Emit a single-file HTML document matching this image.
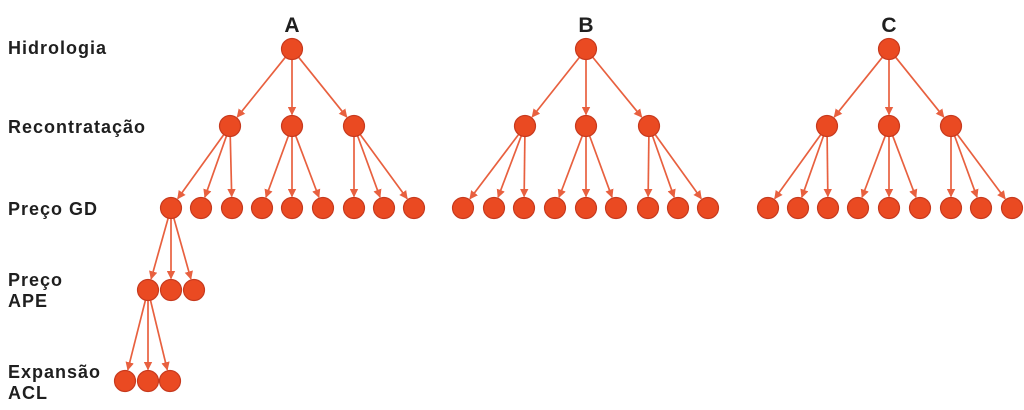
<!DOCTYPE html>
<html><head><meta charset="utf-8"><style>
html,body{margin:0;padding:0;background:#fff;width:1024px;height:410px;overflow:hidden}
svg{display:block}
text{font-family:"Liberation Sans","DejaVu Sans",sans-serif;font-weight:bold;fill:#1f1f1f}
.lb{letter-spacing:1px}
</style></head><body>
<svg id="s" width="1024" height="410" viewBox="0 0 1024 410" xmlns="http://www.w3.org/2000/svg">
<defs><marker id="a" viewBox="0 0 10 10" refX="9" refY="5" markerWidth="5" markerHeight="5" orient="auto"><path d="M0,0L10,5L0,10z" fill="#e8603f"/></marker></defs>
<text class="lb" x="8" y="54" font-size="18">Hidrologia</text>
<text class="lb" x="8" y="133" font-size="18">Recontratação</text>
<text class="lb" x="8" y="215" font-size="18">Preço GD</text>
<text class="lb" x="8" y="286" font-size="18">Preço</text>
<text class="lb" x="8" y="307" font-size="18">APE</text>
<text class="lb" x="8" y="378" font-size="18">Expansão</text>
<text class="lb" x="8" y="399" font-size="18">ACL</text>
<text x="292" y="32" font-size="21" text-anchor="middle">A</text>
<text x="586" y="32" font-size="21" text-anchor="middle">B</text>
<text x="889" y="32" font-size="21" text-anchor="middle">C</text>
<g id="e" stroke="#e8603f" stroke-width="1.7" fill="none"></g>
<g id="n" fill="#ea4a22" stroke="#c73a1e" stroke-width="1.2"></g>
</svg>
<script>
var R=10.5,E=document.getElementById('e'),N=document.getElementById('n'),ns='http://www.w3.org/2000/svg';
function c(x,y){var k=document.createElementNS(ns,'circle');k.setAttribute('cx',x);k.setAttribute('cy',y);k.setAttribute('r',R);N.appendChild(k);}
function l(x1,y1,x2,y2){var dx=x2-x1,dy=y2-y1,d=Math.hypot(dx,dy),ux=dx/d,uy=dy/d;var k=document.createElementNS(ns,'line');
k.setAttribute('x1',x1+ux*R);k.setAttribute('y1',y1+uy*R);k.setAttribute('x2',x2-ux*(R+1));k.setAttribute('y2',y2-uy*(R+1));k.setAttribute('marker-end','url(#a)');E.appendChild(k);}
function tree(t,m,b){c(t,49);m.forEach(function(x,i){l(t,49,x,126);c(x,126);for(var j=0;j<3;j++){var bx=b[i*3+j];l(x,126,bx,208);c(bx,208);}});}
tree(292,[230,292,354],[171,201,232,262,292,323,354,384,414]);
tree(586,[525,586,649],[463,494,524,555,586,616,648,678,708]);
tree(889,[827,889,951],[768,798,828,858,889,920,951,981,1012]);
[148,171,194].forEach(function(x){l(171,208,x,290);c(x,290);});
[125,148,170].forEach(function(x){l(148,290,x,381);c(x,381);});
</script>
</body></html>
